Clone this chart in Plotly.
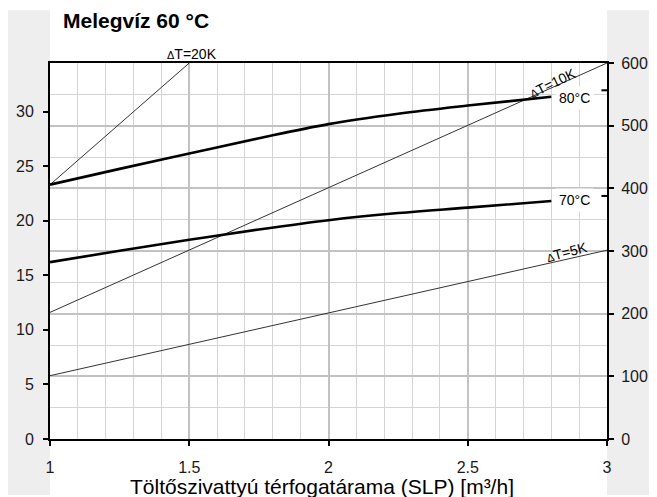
import plotly.graph_objects as go

# ---------------- data ----------------
flow_x = [1, 1.25, 1.5, 1.75, 2, 2.25, 2.5, 2.8]
power_80 = [23.3, 24.75, 26.15, 27.55, 28.85, 29.8, 30.55, 31.35]
power_70 = [16.2, 17.25, 18.25, 19.2, 20.05, 20.7, 21.2, 21.8]

end_mark_x = [2.98, 3.0]
end_80 = 31.95
end_70 = 22.27

dT20_x = [1, 1.5]
dT20_y = [23.3, 34.45]
dT10_x = [1, 3]
dT10_y = [11.6, 34.45]
dT5_x = [1, 3]
dT5_y = [5.8, 17.3]

x_ticks = [1, 1.5, 2, 2.5, 3]
left_ticks = [0, 5, 10, 15, 20, 25, 30]
right_ticks = [0, 100, 200, 300, 400, 500, 600]

left_range = [0, 34.45]
right_range = [0, 600]
x_range = [1, 3]

FONT = "Liberation Sans, Arial, sans-serif"

fig = go.Figure()

thin = dict(color="#333333", width=1)

# invisible trace so the right-hand (base) axis is drawn
fig.add_trace(go.Scatter(x=x_range, y=right_range, mode="markers", marker=dict(opacity=0),
                         yaxis="y", showlegend=False, hoverinfo="skip"))

fig.add_trace(go.Scatter(x=dT20_x, y=dT20_y, mode="lines", line=thin, yaxis="y2", showlegend=False))
fig.add_trace(go.Scatter(x=dT10_x, y=dT10_y, mode="lines", line=thin, yaxis="y2", showlegend=False))
fig.add_trace(go.Scatter(x=dT5_x, y=dT5_y, mode="lines", line=thin, yaxis="y2", showlegend=False))
fig.add_trace(go.Scatter(x=flow_x, y=power_80, mode="lines",
                         line=dict(color="black", width=2.6, shape="spline", smoothing=1.0),
                         yaxis="y2", showlegend=False))
fig.add_trace(go.Scatter(x=flow_x, y=power_70, mode="lines",
                         line=dict(color="black", width=2.6, shape="spline", smoothing=1.0),
                         yaxis="y2", showlegend=False))
fig.add_trace(go.Scatter(x=end_mark_x, y=[end_80, end_80], mode="lines", line=dict(color="black", width=2),
                         yaxis="y2", showlegend=False))
fig.add_trace(go.Scatter(x=end_mark_x, y=[end_70, end_70], mode="lines", line=dict(color="black", width=2),
                         yaxis="y2", showlegend=False))

tickfont = dict(family=FONT, size=16, color="#1a1a1a")

fig.update_layout(
    width=657, height=497,
    margin=dict(l=42, r=58, t=55, b=66, autoexpand=False),
    paper_bgcolor="white", plot_bgcolor="white",
    showlegend=False,
    xaxis=dict(
        range=x_range, tickvals=x_ticks, ticktext=[str(v) for v in x_ticks],
        showgrid=True, gridcolor="#c2c2c2", gridwidth=2,
        minor=dict(dtick=0.1, showgrid=True, gridcolor="#d4d4d4", gridwidth=1),
        showline=True, linecolor="black", linewidth=2, mirror=True,
        ticks="outside", ticklen=5, tickwidth=1.5, tickcolor="black",
        tickfont=tickfont, ticklabelstandoff=8, zeroline=False, automargin=False,
    ),
    yaxis=dict(
        range=right_range, tickvals=right_ticks, side="right",
        showgrid=True, gridcolor="#c2c2c2", gridwidth=2,
        minor=dict(dtick=50, showgrid=True, gridcolor="#d4d4d4", gridwidth=1),
        showline=True, linecolor="black", linewidth=2,
        ticks="outside", ticklen=5, tickwidth=1.5, tickcolor="black",
        tickfont=tickfont, ticklabelstandoff=4, zeroline=False, automargin=False,
    ),
    yaxis2=dict(
        range=left_range, tickvals=left_ticks, side="left", overlaying="y",
        showgrid=False, showline=True, linecolor="black", linewidth=2,
        ticks="outside", ticklen=5, tickwidth=1.5, tickcolor="black",
        tickfont=tickfont, ticklabelstandoff=6, zeroline=False, automargin=False,
    ),
)

# grey side strips
fig.add_shape(type="rect", xref="paper", yref="paper", x0=-0.0754, x1=0.0, y0=-0.149, y1=1.140,
              fillcolor="#eeeeee", line_width=0, layer="below")
fig.add_shape(type="rect", xref="paper", yref="paper", x0=1.0, x1=1.11, y0=-0.149, y1=1.140,
              fillcolor="#eeeeee", line_width=0, layer="below")

# title
fig.add_annotation(text="<b>Melegvíz 60 °C</b>", xref="paper", yref="paper", x=0.02, y=1,
                   xanchor="left", yanchor="middle", yshift=43, showarrow=False,
                   font=dict(family=FONT, size=21, color="black"))
# x-axis title
fig.add_annotation(text="Töltőszivattyú térfogatárama (SLP) [m³/h]", xref="paper", yref="paper",
                   x=0.4875, y=0, xanchor="center", yanchor="middle", yshift=-47, showarrow=False,
                   font=dict(family=FONT, size=21, color="black"))

lblfont = dict(family=FONT, size=14, color="black")
delta = "<span style='font-size:11px'>Δ</span>"
fig.add_annotation(text=delta + "T=20K", x=1.51, xref="x", y=1, yref="paper", yanchor="bottom",
                   showarrow=False, font=lblfont, yshift=-1)
fig.add_annotation(text=delta + "T=10K", x=2.805, xref="x", y=32.6, yref="y2", textangle=-26,
                   showarrow=False, font=lblfont)
fig.add_annotation(text=delta + "T=5K", x=2.855, xref="x", y=17.1, yref="y2", textangle=-15,
                   showarrow=False, font=lblfont)
fig.add_annotation(text="80°C", x=2.884, xref="x", y=31.26, yref="y2", showarrow=False,
                   font=dict(family=FONT, size=14, color="black"), bgcolor="white", borderpad=3)
fig.add_annotation(text="70°C", x=2.884, xref="x", y=21.88, yref="y2", showarrow=False,
                   font=dict(family=FONT, size=14, color="black"), bgcolor="white", borderpad=3)

fig.write_html("out.html")
